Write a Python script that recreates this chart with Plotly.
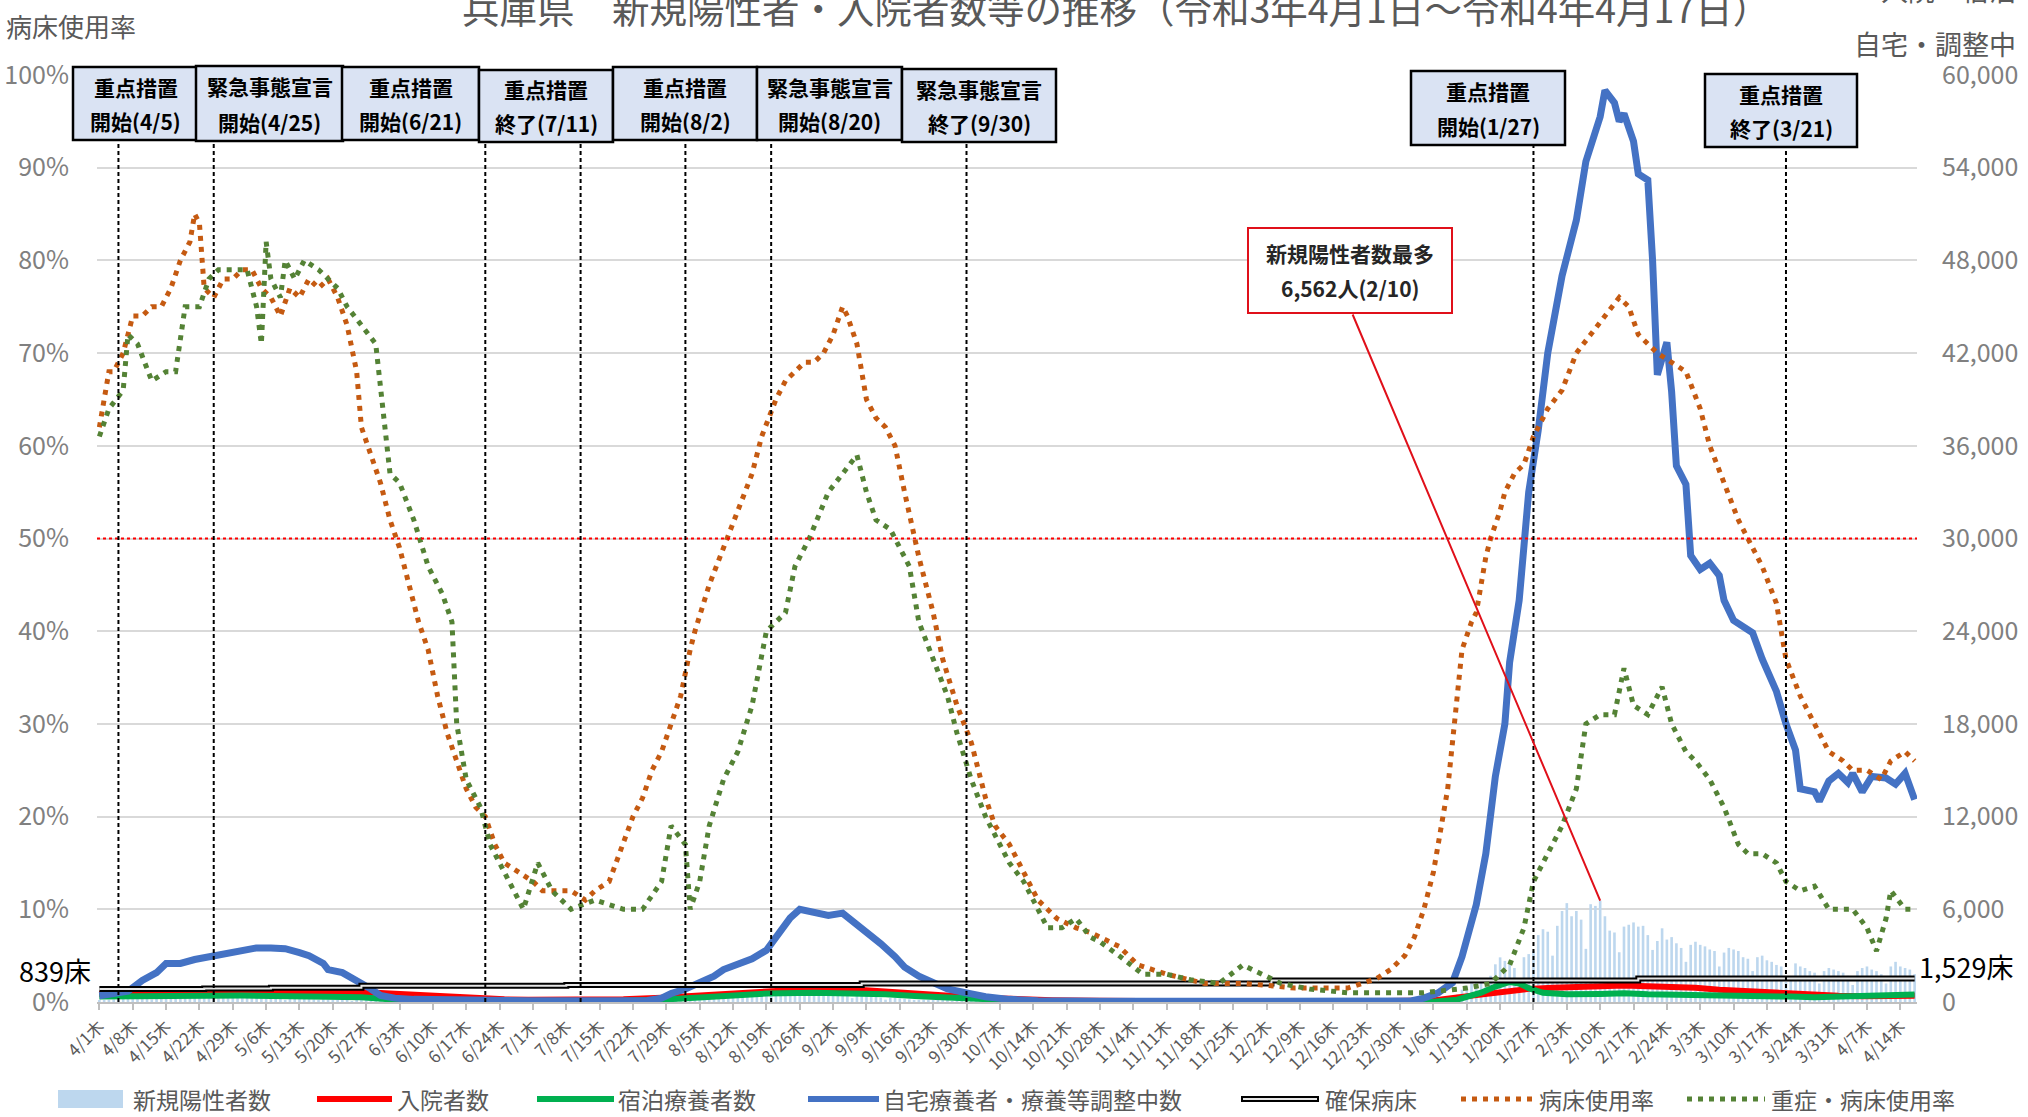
import plotly.graph_objects as go

# ---------------- data ----------------
tick_labels = ["4/1木", "4/8木", "4/15木", "4/22木", "4/29木", "5/6木", "5/13木", "5/20木", "5/27木",
               "6/3木", "6/10木", "6/17木", "6/24木", "7/1木", "7/8木", "7/15木", "7/22木", "7/29木",
               "8/5木", "8/12木", "8/19木", "8/26木", "9/2木", "9/9木", "9/16木", "9/23木", "9/30木",
               "10/7木", "10/14木", "10/21木", "10/28木", "11/4木", "11/11木", "11/18木", "11/25木",
               "12/2木", "12/9木", "12/16木", "12/23木", "12/30木", "1/6木", "1/13木", "1/20木", "1/27木",
               "2/3木", "2/10木", "2/17木", "2/24木", "3/3木", "3/10木", "3/17木", "3/24木", "3/31木",
               "4/7木", "4/14木"]
tick_days = [i * 7 for i in range(len(tick_labels))]

# 新規陽性者数 (daily, one row per week starting Thursday 4/1/2021)
new_cases_weeks = [
    [125, 136, 147, 163, 125, 226, 277], [328, 296, 305, 244, 166, 445, 507],
    [552, 576, 543, 496, 288, 533, 585], [592, 597, 629, 493, 249, 406, 477],
    [520, 430, 440, 360, 300, 270, 250], [230, 380, 350, 300, 140, 270, 300],
    [240, 220, 190, 160, 80, 180, 150], [140, 120, 110, 90, 50, 90, 80],
    [70, 60, 55, 45, 25, 50, 45], [40, 35, 30, 25, 15, 30, 30],
    [25, 25, 20, 18, 10, 20, 20], [15, 15, 12, 12, 8, 15, 15],
    [15, 15, 12, 12, 8, 15, 15], [15, 18, 16, 14, 10, 20, 25],
    [25, 30, 30, 25, 15, 40, 45], [50, 60, 55, 50, 35, 80, 90],
    [100, 110, 120, 100, 70, 200, 230], [250, 280, 300, 250, 180, 350, 400],
    [450, 500, 500, 400, 250, 500, 600], [650, 700, 650, 550, 350, 650, 800],
    [850, 900, 880, 700, 500, 800, 900], [950, 870, 800, 650, 400, 700, 750],
    [700, 620, 550, 450, 250, 450, 480], [430, 380, 330, 280, 150, 260, 280],
    [230, 200, 170, 140, 80, 150, 140], [120, 100, 90, 70, 40, 80, 75],
    [60, 55, 50, 40, 20, 40, 40], [35, 30, 28, 22, 12, 25, 25],
    [20, 18, 15, 12, 8, 15, 14], [12, 10, 9, 8, 4, 9, 8],
    [7, 6, 6, 5, 3, 5, 4], [4, 4, 3, 3, 2, 4, 3],
    [3, 3, 2, 2, 1, 3, 2], [2, 3, 2, 2, 1, 2, 2],
    [3, 2, 2, 1, 1, 2, 3], [3, 2, 2, 2, 1, 3, 2],
    [3, 3, 2, 2, 1, 3, 4], [4, 3, 5, 4, 2, 5, 6],
    [7, 8, 6, 5, 4, 9, 10], [12, 15, 14, 20, 30, 60, 110],
    [170, 260, 330, 380, 300, 480, 800], [1000, 1200, 1400, 1500, 1000, 1700, 2440],
    [2890, 2660, 2660, 2200, 1500, 2900, 3100], [3300, 4330, 4710, 4550, 3000, 4930, 5890],
    [6400, 5550, 5890, 5330, 3440, 6330, 6220], [6562, 5550, 4620, 4500, 3220, 4880, 5000],
    [5150, 4880, 4930, 4330, 3370, 3950, 4770], [4040, 4200, 3800, 3500, 2600, 3700, 3900],
    [3700, 3600, 3400, 3300, 2300, 3200, 3500], [3400, 3300, 2900, 2800, 2000, 2900, 3000],
    [2700, 2600, 2400, 2300, 1300, 1500, 2500], [2300, 2200, 2000, 1900, 1200, 2000, 2200],
    [2100, 2000, 1900, 1700, 1100, 2000, 2200], [2300, 2100, 2000, 1800, 1200, 2300, 2600],
    [2300, 2200, 2100, 1800],
]
new_cases = [v for wk in new_cases_weeks for v in wk]
case_days = list(range(len(new_cases)))

# 病床使用率 (%)  (day index from 2021/4/1, value)
bed_days = [0, 1, 2, 3, 5, 7, 9, 11, 13, 15, 17, 19, 20, 21, 22, 24, 26, 28, 30, 32, 34, 36, 38, 40, 42, 44, 46,
            48, 50, 52, 54, 55, 57, 59, 61, 63, 65, 67, 69, 71, 73, 75, 77, 79, 81, 83, 85, 88, 91, 93, 96, 99,
            102, 104, 107, 110, 112, 114, 116, 118, 120, 122, 124, 125, 128, 131, 134, 137, 139, 142, 144, 146,
            148, 150, 152, 154, 156, 157, 159, 161, 163, 165, 167, 169, 171, 172, 175, 177, 180, 183, 186, 188,
            191, 194, 197, 199, 201, 205, 208, 210, 214, 216, 218, 221, 224, 228, 232, 236, 240, 245, 251, 256,
            262, 265, 268, 271, 274, 276, 278, 280, 281, 283, 284, 286, 288, 289, 291, 292, 294, 295, 297, 299,
            301, 304, 307, 310, 313, 316, 319, 321, 323, 325, 327, 330, 333, 336, 338, 341, 344, 346, 349, 352,
            354, 357, 360, 363, 366, 368, 371, 374, 376, 379, 381]
bed_pct = [62, 65, 68, 68, 70, 74, 74, 75, 75, 77, 80, 82, 85, 84, 77, 76, 78, 78, 79, 79, 77, 76, 74, 77, 76, 78,
           77, 78, 76, 73, 68, 62, 59, 56, 52, 49, 45, 41, 38, 33, 29, 26, 23, 21, 20, 17, 15, 14, 13, 12, 12, 12,
           11, 12, 13, 17, 20, 22, 25, 27, 30, 33, 38, 40, 45, 49, 53, 57, 61, 65, 67, 68, 69, 69, 70, 72, 75, 74,
           71, 65, 63, 62, 60, 55, 50, 48, 42, 37, 32, 28, 22, 19, 17, 14, 11, 10, 9, 8, 7.5, 7, 6, 5, 4, 3.5, 3,
           2.5, 2, 2, 2, 1.8, 1.5, 1.5, 1.5, 2, 2.5, 3.5, 5, 7, 10, 14, 17, 23, 28, 38, 41, 42, 48, 50, 53, 55, 57,
           58, 61, 64, 66, 70, 72, 74, 76, 75, 72, 71, 70, 69, 68, 64, 60, 56, 52, 50, 47, 43, 37, 33, 30, 27, 26,
           25, 25, 24, 26, 27, 26]

# 重症・病床使用率 (%)
severe_days = [0, 2, 5, 6, 8, 11, 14, 16, 18, 21, 23, 25, 28, 31, 33, 34, 35, 36, 38, 39, 41, 43, 46, 48, 50, 52,
               55, 58, 61, 63, 66, 69, 72, 74, 75, 77, 80, 82, 86, 89, 92, 95, 99, 104, 110, 114, 118, 120, 123,
               124, 126, 128, 131, 134, 137, 140, 144, 146, 149, 153, 156, 159, 161, 163, 166, 167, 170, 172, 175,
               178, 180, 183, 186, 189, 191, 194, 197, 199, 202, 205, 208, 210, 214, 219, 224, 229, 235, 240, 244,
               248, 254, 262, 270, 278, 287, 292, 296, 299, 301, 304, 307, 310, 312, 315, 318, 320, 322, 325, 328,
               330, 333, 335, 338, 341, 344, 346, 349, 352, 354, 357, 360, 363, 365, 368, 371, 373, 375, 376, 379,
               381]
severe_pct = [61, 64, 66, 72, 71, 67, 68, 68, 75, 75, 78, 79, 79, 79, 75, 71, 82, 78, 76, 80, 78, 80, 79, 78, 77,
              75, 73, 71, 57, 56, 52, 47, 44, 41, 30, 24, 21, 17, 13, 10, 15, 12, 10, 11, 10, 10, 13, 19, 17, 10,
              13, 19, 24, 27, 32, 40, 42, 47, 50, 55, 57, 59, 55, 52, 51, 50, 47, 41, 37, 33, 29, 24, 20, 17, 15,
              13, 10, 8, 8, 9, 7, 6.5, 5, 3, 3, 2.4, 2, 4, 3, 2, 1.4, 1, 1, 1, 1.5, 2, 4, 8, 13, 16, 19, 23, 30, 31,
              31, 36, 32, 31, 34, 30, 27, 26, 24, 21, 17, 16, 16, 15, 13, 12, 12.5, 10, 10, 10, 8, 5.5, 9, 12, 10,
              10]

# 自宅療養者・療養等調整中数
home_days = [0, 3, 6, 9, 12, 14, 17, 20, 23, 25, 28, 31, 33, 36, 39, 42, 44, 47, 48, 51, 54, 57, 59, 62, 66, 75,
             90, 105, 115, 118, 120, 123, 126, 129, 131, 134, 137, 140, 142, 145, 147, 150, 153, 156, 158, 161,
             164, 167, 169, 172, 175, 178, 182, 186, 191, 197, 210, 250, 275, 278, 281, 284, 286, 289, 291, 293,
             295, 296, 298, 299, 300, 302, 304, 307, 310, 312, 315, 316, 318, 319, 320, 322, 323, 325, 326, 327,
             329, 330, 331, 333, 334, 336, 338, 340, 341, 343, 345, 347, 349, 352, 354, 356, 357, 360, 361, 363,
             365, 367, 368, 370, 372, 375, 377, 379, 381]
home_vals = [400, 600, 700, 1400, 1900, 2500, 2500, 2750, 2900, 3100, 3200, 3350, 3500, 3500, 3450, 3200, 3000,
             2500, 2100, 1900, 1400, 840, 420, 250, 170, 100, 80, 80, 100, 250, 550, 840, 1250, 1670, 2100, 2500,
             2800, 3350, 4200, 5440, 6000, 5850, 5600, 5750, 5270, 4600, 3770, 2930, 2260, 1670, 1250, 840, 590,
             340, 170, 80, 50, 40, 60, 250, 590, 1250, 2930, 6300, 9600, 14600, 18000, 22000, 26000, 29500, 33000,
             37000, 42000, 47000, 50600, 54400, 57300, 59000, 58200, 57000, 57500, 55700, 53600, 53200, 48000,
             40600, 42700, 39500, 34700, 33500, 28900, 28000, 28400, 27600, 26000, 24700, 24300, 23900, 22200,
             20100, 18000, 16300, 13800, 13600, 13000, 14300, 14800, 14200, 14800, 13600, 14600, 14500, 14100,
             14800, 13100]

# 入院者数
hosp_days = [0, 7, 14, 21, 28, 35, 42, 49, 55, 60, 65, 70, 75, 80, 85, 90, 100, 110, 118, 125, 132, 139, 146,
             153, 156, 160, 165, 170, 175, 180, 185, 190, 200, 210, 220, 235, 255, 270, 276, 280, 285, 290, 295,
             300, 305, 310, 316, 320, 325, 330, 335, 340, 345, 350, 355, 360, 365, 370, 375, 381]
hosp_vals = [520, 620, 640, 710, 700, 700, 700, 710, 640, 560, 480, 390, 280, 220, 170, 150, 130, 170, 280, 420,
             560, 680, 780, 820, 880, 780, 700, 620, 480, 380, 280, 200, 120, 80, 40, 25, 15, 20, 40, 100, 300,
             500, 700, 850, 930, 1000, 1070, 1060, 1020, 980, 920, 800, 720, 610, 520, 430, 400, 380, 400, 400]

# 宿泊療養者数
hotel_days = [0, 10, 20, 30, 40, 50, 55, 60, 70, 80, 90, 100, 110, 118, 125, 132, 140, 150, 158, 165, 172, 180,
              188, 195, 205, 220, 260, 280, 285, 290, 293, 296, 298, 300, 303, 308, 315, 320, 325, 330, 335, 340,
              345, 350, 355, 360, 365, 370, 375, 381]
hotel_vals = [350, 400, 450, 420, 380, 350, 300, 200, 100, 60, 50, 50, 80, 150, 300, 450, 550, 600, 580, 500, 380,
              250, 120, 60, 30, 10, 5, 20, 150, 600, 1000, 1300, 1200, 900, 600, 500, 520, 560, 500, 480, 450, 480,
              420, 380, 350, 300, 350, 400, 450, 480]

# 確保病床 (step line)
cap_days = [0, 22, 36, 55, 98, 160, 246, 323, 381]
cap_vals = [839, 880, 920, 1050, 1100, 1200, 1390, 1529, 1529]

# events
event_days = [4, 24, 81, 101, 123, 141, 182, 301, 354]
event_line1 = ["重点措置", "緊急事態宣言", "重点措置", "重点措置", "重点措置", "緊急事態宣言", "緊急事態宣言",
               "重点措置", "重点措置"]
event_line2 = ["開始(4/5)", "開始(4/25)", "開始(6/21)", "終了(7/11)", "開始(8/2)", "開始(8/20)", "終了(9/30)",
               "開始(1/27)", "終了(3/21)"]
peak_day = 315
peak_value = 6562
peak_line1 = "新規陽性者数最多"
peak_line2 = "6,562人(2/10)"

# ---------------- geometry helpers (layout only) ----------------
W_FIG, H_FIG = 2028, 1117
L, T, R, B = 97, 75, 111, 115
PW, PH = W_FIG - L - R, H_FIG - T - B


def px(x):
    return (x - L) / PW


def py(y):
    return 1 - (y - T) / PH


FONT = "Noto Sans CJK JP"
C_BAR = "#bdd7ee"
C_RED = "#ff0000"
C_GREEN = "#00b050"
C_BLUE = "#4472c4"
C_BROWN = "#c55a11"
C_DGREEN = "#548235"
C_GRID = "#d9d9d9"
C_TXT = "#595959"
C_TICK = "#808080"
DOT = "5px,6px"


def text_at(x, y, text, size, color, xanchor="center", weight=False):
    return dict(xref="paper", yref="paper", x=px(x), y=py(y), xanchor=xanchor, yanchor="middle",
                text=("<b>" + text + "</b>") if weight else text, showarrow=False,
                font=dict(family=FONT, size=size, color=color))


fig = go.Figure()

fig.add_trace(go.Bar(x=case_days, y=new_cases, marker=dict(color=C_BAR, line=dict(width=0)), width=0.55,
                     name="新規陽性者数", yaxis="y"))
fig.add_trace(go.Scatter(x=hosp_days, y=hosp_vals, mode="lines", line=dict(color=C_RED, width=6),
                         name="入院者数", yaxis="y"))
fig.add_trace(go.Scatter(x=hotel_days, y=hotel_vals, mode="lines", line=dict(color=C_GREEN, width=6),
                         name="宿泊療養者数", yaxis="y"))
fig.add_trace(go.Scatter(x=home_days, y=home_vals, mode="lines", line=dict(color=C_BLUE, width=7),
                         name="自宅療養者・療養等調整中数", yaxis="y"))
fig.add_trace(go.Scatter(x=cap_days, y=cap_vals, mode="lines", line=dict(color="black", width=6, shape="hv"),
                         name="確保病床", yaxis="y"))
fig.add_trace(go.Scatter(x=cap_days, y=cap_vals, mode="lines", line=dict(color="#e6e6e6", width=2, shape="hv"),
                         showlegend=False, yaxis="y"))
fig.add_trace(go.Scatter(x=bed_days, y=bed_pct, mode="lines", line=dict(color=C_BROWN, width=5, dash=DOT),
                         name="病床使用率", yaxis="y2"))
fig.add_trace(go.Scatter(x=severe_days, y=severe_pct, mode="lines", line=dict(color=C_DGREEN, width=5, dash=DOT),
                         name="重症・病床使用率", yaxis="y2"))

shapes = []
annotations = []

# 50% reference line
shapes.append(dict(type="line", xref="paper", x0=0, x1=1, yref="y2", y0=50, y1=50,
                   line=dict(color=C_RED, width=2, dash="dot"), layer="above"))

# event boxes (pixel boxes: left, top, right, bottom)
boxes = [(73, 67, 198, 140), (196, 66, 343, 141), (342, 67, 479, 140), (479, 70, 613, 142),
         (613, 67, 757, 140), (757, 67, 902, 140), (902, 69, 1056, 142), (1411, 71, 1565, 145),
         (1705, 74, 1857, 147)]
for d, t1, t2, (x0, y0, x1, y1) in zip(event_days, event_line1, event_line2, boxes):
    shapes.append(dict(type="line", xref="x", x0=d, x1=d, yref="paper", y0=0, y1=py(y1),
                       line=dict(color="black", width=2, dash="4px,3px"), layer="above"))
    shapes.append(dict(type="rect", xref="paper", yref="paper", x0=px(x0), x1=px(x1), y0=py(y1), y1=py(y0),
                       fillcolor="#dae3f3", line=dict(color="black", width=2.5), layer="above"))
    h = y1 - y0
    annotations.append(text_at((x0 + x1) / 2, y0 + 0.27 * h, t1, 21, "black", weight=True))
    annotations.append(text_at((x0 + x1) / 2, y0 + 0.74 * h, t2, 21, "black", weight=True))

# peak annotation box
bx0, by0, bx1, by1 = 1248, 228, 1452, 313
shapes.append(dict(type="rect", xref="paper", yref="paper", x0=px(bx0), x1=px(bx1), y0=py(by1), y1=py(by0),
                   fillcolor="white", line=dict(color="#e0101a", width=2), layer="above"))
annotations.append(text_at((bx0 + bx1) / 2, by0 + 0.29 * (by1 - by0), peak_line1, 21, "#262626", weight=True))
annotations.append(text_at((bx0 + bx1) / 2, by0 + 0.70 * (by1 - by0), peak_line2, 21, "#262626", weight=True))
# connector from box to the 2/10 bar
peak_tail = (1352, 313)
bar_px = L + (peak_day + 0.5) / len(new_cases) * PW
bar_py = T + (1 - peak_value / 60000) * PH
annotations.append(dict(xref="x", yref="y", x=peak_day, y=peak_value, text="", showarrow=True,
                        arrowhead=0, arrowwidth=2, arrowcolor="#e0101a", standoff=0,
                        ax=peak_tail[0] - bar_px, ay=peak_tail[1] - bar_py))

# capacity labels
annotations.append(text_at(55, 970, "839床", 27, "black"))
annotations.append(text_at(1966, 966, "1,529床", 27, "black"))

# title & axis captions
annotations.append(dict(xref="paper", yref="paper", x=px(1116), y=py(36), xanchor="center", yanchor="bottom",
                        text="兵庫県　新規陽性者・入院者数等の推移（令和3年4月1日～令和4年4月17日）",
                        showarrow=False, font=dict(family=FONT, size=37.5, color=C_TXT)))
annotations.append(text_at(4, 26, "病床使用率", 26, C_TXT, xanchor="left"))
annotations.append(text_at(2018, -10, "入院・宿泊", 27, C_TXT, xanchor="right"))
annotations.append(text_at(2018, 44, "自宅・調整中", 27, C_TXT, xanchor="right"))

# manual legend
LY = 1099
legend_items = [("bar", C_BAR, 58, 123, 131, "新規陽性者数"),
                ("line", C_RED, 317, 392, 395, "入院者数"),
                ("line", C_GREEN, 537, 614, 616, "宿泊療養者数"),
                ("line", C_BLUE, 808, 879, 881, "自宅療養者・療養等調整中数"),
                ("cap", "black", 1241, 1319, 1323, "確保病床"),
                ("dot", C_BROWN, 1461, 1532, 1537, "病床使用率"),
                ("dot", C_DGREEN, 1687, 1765, 1769, "重症・病床使用率")]
for kind, col, s0, s1, tx, label in legend_items:
    if kind == "bar":
        shapes.append(dict(type="rect", xref="paper", yref="paper", x0=px(s0), x1=px(s1), y0=py(LY + 9),
                           y1=py(LY - 9), fillcolor=col, line=dict(width=0)))
    elif kind == "line":
        shapes.append(dict(type="line", xref="paper", yref="paper", x0=px(s0), x1=px(s1), y0=py(LY), y1=py(LY),
                           line=dict(color=col, width=6)))
    elif kind == "cap":
        shapes.append(dict(type="line", xref="paper", yref="paper", x0=px(s0), x1=px(s1), y0=py(LY), y1=py(LY),
                           line=dict(color="black", width=6)))
        shapes.append(dict(type="line", xref="paper", yref="paper", x0=px(s0 + 2), x1=px(s1 - 2), y0=py(LY),
                           y1=py(LY), line=dict(color="#e6e6e6", width=2)))
    else:
        shapes.append(dict(type="line", xref="paper", yref="paper", x0=px(s0), x1=px(s1), y0=py(LY), y1=py(LY),
                           line=dict(color=col, width=5, dash=DOT)))
    annotations.append(text_at(tx, LY, label, 23, C_TXT, xanchor="left"))

fig.update_layout(
    width=W_FIG, height=H_FIG,
    margin=dict(l=L, r=R, t=T, b=B, pad=0, autoexpand=False),
    paper_bgcolor="white", plot_bgcolor="white",
    showlegend=False,
    font=dict(family=FONT, color=C_TXT),
    xaxis=dict(range=[-0.5, len(new_cases) - 0.5], tickmode="array", tickvals=tick_days, ticktext=tick_labels,
               tickangle=-45, tickfont=dict(family=FONT, size=17, color=C_TXT), ticks="outside", ticklen=6,
               tickcolor="#bfbfbf", tickwidth=1.5, showline=True, linecolor="#bfbfbf", linewidth=1.5,
               showgrid=False, zeroline=False, automargin=False),
    yaxis=dict(range=[0, 60000], side="right", tickmode="linear", tick0=0, dtick=6000, tickformat=",",
               tickfont=dict(family=FONT, size=25, color=C_TICK), showgrid=True, gridcolor=C_GRID,
               gridwidth=2, zeroline=False, showline=False, ticks="", ticklabelstandoff=24, automargin=False),
    yaxis2=dict(range=[0, 100], side="left", overlaying="y", tickmode="linear", tick0=0, dtick=10,
                ticksuffix="%", tickfont=dict(family=FONT, size=25, color=C_TICK), showgrid=False,
                zeroline=False, showline=False, ticks="", ticklabelstandoff=27, automargin=False),
    shapes=shapes,
    annotations=annotations,
    bargap=0.45,
)

fig.write_html("out.html", config={"displayModeBar": False},
               post_script="document.body.style.margin='0';document.body.style.overflow='hidden';")
